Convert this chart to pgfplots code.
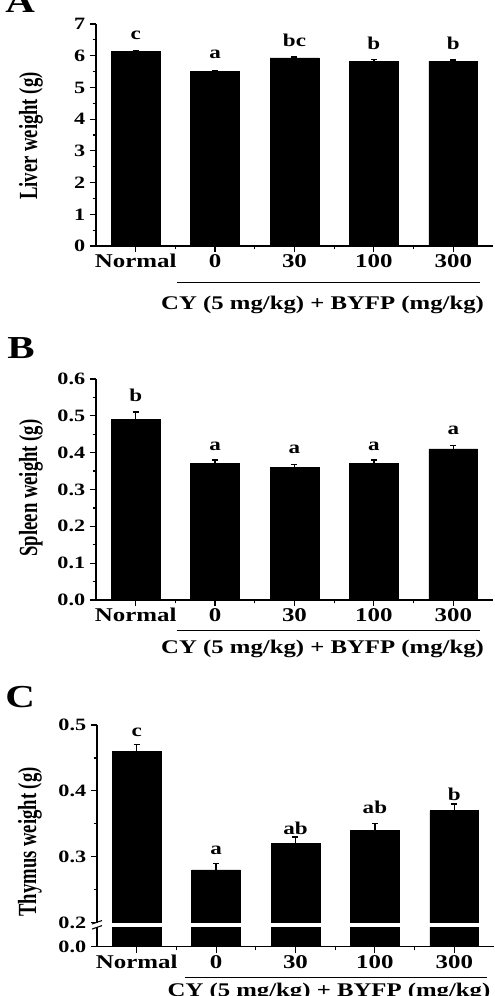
\documentclass[border=0pt]{standalone}
\usepackage{graphicx}
\usepackage{pgfplots}
\usepackage{pgfplotstable}
\pgfplotsset{compat=1.18}
\usepackage{fontspec}
\setmainfont{Liberation Serif}[FakeStretch=1.28]
\newfontfamily\labfont{Liberation Serif}

% organ weights: group index, mean, SEM
\pgfplotstableread{
x  y     e
0  6.13  0.03
1  5.50  0.03
2  5.93  0.03
3  5.83  0.06
4  5.83  0.03
}\liver
\pgfplotstableread{
x  y     e
0  0.49  0.020
1  0.37  0.010
2  0.36  0.007
3  0.37  0.010
4  0.41  0.010
}\spleen
\pgfplotstableread{
x  y     e
0  0.46  0.010
1  0.28  0.010
2  0.32  0.010
3  0.34  0.010
4  0.37  0.010
}\thymus

\newcommand{\ylab}[1]{\labfont\bfseries\fontsize{14}{14}\selectfont\scalebox{1}[1.4]{#1}}

\tikzset{sig/.style={font=\bfseries\fontsize{13.5}{13.5}\selectfont, anchor=base, inner sep=0pt}}

\pgfplotsset{
  organ/.style={
    scale only axis,
    width=297.75pt,
    axis y line*=left,
    xmin=-0.5, xmax=4.5,
    xtick={0,1,2,3,4},
    xticklabels={Normal,0,30,100,300},
    minor x tick num=1,
    tick align=outside,
    major tick length=4.5pt,
    minor tick length=2.5pt,
    scaled y ticks=false,
    axis line style={line width=1pt, black},
    every tick/.style={black, line width=0.9pt},
    xticklabel style={font=\bfseries\fontsize{14.6}{14.6}\selectfont, anchor=base, inner sep=0pt, yshift=-11.6pt},
    yticklabel style={font=\bfseries\fontsize{13}{13}\selectfont, anchor=east, inner sep=0pt, xshift=-3.4pt},
    ybar, bar width=0.615,
  },
  bars/.style={fill=black, draw=black,
    error bars/.cd, y dir=plus, y explicit,
    error bar style={line width=1pt, black},
    error mark=-,
    error mark options={rotate=90, line width=1pt, mark size=2.25pt, black}},
}

\begin{document}
\begin{tikzpicture}

% ---------- A: liver ----------
\begin{axis}[organ, at={(72pt,-184.5pt)}, anchor=south west,
  height=166.5pt, axis x line*=bottom,
  ymin=0, ymax=7, ytick={0,1,2,3,4,5,6,7},
  yticklabels={0,1,2,3,4,5,6,7}, minor y tick num=1,
  ylabel={\ylab{Liver weight (g)}},
  ylabel style={at={(axis description cs:-0.164,0.495)}, anchor=center}]
\addplot[bars] table[x=x, y=y, y error=e] {\liver};
\node[sig] at (axis cs:0,6.50) {c};
\node[sig] at (axis cs:1,5.92) {a};
\node[sig] at (axis cs:2,6.29) {bc};
\node[sig] at (axis cs:3,6.20) {b};
\node[sig] at (axis cs:4,6.20) {b};
\end{axis}

% ---------- B: spleen ----------
\begin{axis}[organ, at={(72pt,-450pt)}, anchor=south west,
  height=165.75pt, axis x line*=bottom,
  ymin=0, ymax=0.6, ytick={0,0.1,0.2,0.3,0.4,0.5,0.6},
  yticklabels={0.0,0.1,0.2,0.3,0.4,0.5,0.6}, minor y tick num=1,
  ylabel={\ylab{Spleen weight (g)}},
  ylabel style={at={(axis description cs:-0.164,0.507)}, anchor=center}]
\addplot[bars] table[x=x, y=y, y error=e] {\spleen};
\node[sig] at (axis cs:0,0.539) {b};
\node[sig] at (axis cs:1,0.406) {a};
\node[sig] at (axis cs:2,0.399) {a};
\node[sig] at (axis cs:3,0.405) {a};
\node[sig] at (axis cs:4,0.448) {a};
\end{axis}

% ---------- C: thymus (broken y axis) ----------
\begin{axis}[organ, at={(72.75pt,-692pt)}, anchor=south west,
  height=148.3pt, axis x line=none,
  ymin=0.2, ymax=0.5, ytick={0.2,0.3,0.4,0.5},
  yticklabels={0.2,0.3,0.4,0.5}, minor y tick num=1,
  ylabel={\ylab{Thymus weight (g)}},
  ylabel style={at={(axis description cs:-0.169,0.408)}, anchor=center}]
\addplot[bars] table[x=x, y=y, y error=e] {\thymus};
\node[sig] at (axis cs:0,0.483) {c};
\node[sig] at (axis cs:1,0.304) {a};
\node[sig] at (axis cs:2,0.334) {ab};
\node[sig] at (axis cs:3,0.365) {ab};
\node[sig] at (axis cs:4,0.385) {b};
\end{axis}

\begin{axis}[organ, at={(72.75pt,-710pt)}, anchor=south west,
  height=14.55pt, axis x line*=bottom,
  ymin=0, ymax=0.0294, ytick={0}, yticklabels={0.0}]
\addplot[fill=black, draw=black] table[x=x, y=y] {\thymus};
\end{axis}

% axis break marks
\draw[line width=0.8pt] (69pt,-693pt) -- (76.5pt,-690.4pt);
\draw[line width=0.8pt] (69pt,-696.8pt) -- (76.5pt,-694.2pt);

% treatment brackets and captions
\draw[line width=1.1pt] (132.5pt,-212pt) -- (360pt,-212pt);
\draw[line width=1.1pt] (132.5pt,-473pt) -- (360pt,-473pt);
\draw[line width=1.1pt] (138.75pt,-733.3pt) -- (365.25pt,-733.3pt);
\foreach \cx/\by in {241.9pt/-231.75pt, 241.9pt/-489.75pt, 246.75pt/-747pt}
  \node[font=\bfseries\fontsize{14.5}{14.5}\selectfont, anchor=base, inner sep=0pt]
    at (\cx,\by) {CY (5 mg/kg) + BYFP (mg/kg)};

% panel letters
\node[font=\bfseries\fontsize{24}{24}\selectfont, anchor=base west, inner sep=0pt] at (3.75pt,-9pt) {A};
\node[font=\bfseries\fontsize{24}{24}\selectfont, anchor=base west, inner sep=0pt] at (5.25pt,-268.5pt) {B};
\node[font=\bfseries\fontsize{24}{24}\selectfont, anchor=base west, inner sep=0pt] at (3.75pt,-530.25pt) {C};

\pgfresetboundingbox
\useasboundingbox (0,0) rectangle (371.25pt,-747pt);
\end{tikzpicture}
\end{document}
